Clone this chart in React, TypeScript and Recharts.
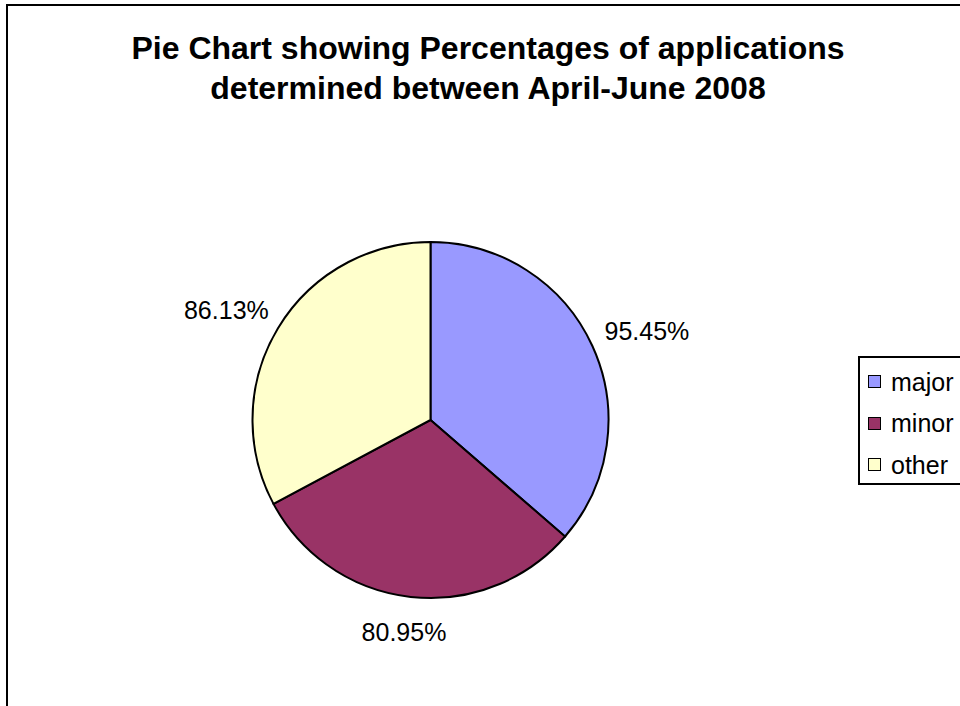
import React from 'react';
import { PieChart, Pie, Cell, Legend } from 'recharts';

const categories = ['major', 'minor', 'other'];
const percentages = [95.45, 80.95, 86.13];
const colours = ['#9999FF', '#993366', '#FFFFCC'];

const chartData = categories.map((name, i) => ({ name, value: percentages[i] }));

const FONT = '"Liberation Sans", Arial, sans-serif';
const RADIAN = Math.PI / 180;

// labels ride on an ellipse outside the rim: wider sideways because the text is wide
const renderLabel = (props: any) => {
  const { cx, cy, midAngle, outerRadius, value } = props;
  const cos = Math.cos(-midAngle * RADIAN);
  const sin = Math.sin(-midAngle * RADIAN);
  const x = cx + (outerRadius + 60) * cos;
  const y = cy + (outerRadius + 35) * sin;
  return (
    <text
      x={x}
      y={y}
      dy={9}
      textAnchor="middle"
      fill="#000"
      style={{ fontFamily: FONT, fontSize: 25 }}
    >
      {`${Number(value).toFixed(2)}%`}
    </text>
  );
};

const renderLegend = () => (
  <div
    style={{
      border: '2px solid #000',
      background: '#fff',
      width: 130,
      height: 122,
      boxSizing: 'content-box',
      fontFamily: FONT,
      fontSize: 25,
      color: '#000',
      paddingTop: 3,
    }}
  >
    {categories.map((name, i) => (
      <div key={name} style={{ display: 'flex', alignItems: 'center', height: 41.5 }}>
        <span
          style={{
            display: 'inline-block',
            width: 11,
            height: 11,
            marginLeft: 8,
            marginRight: 10,
            border: '1.5px solid #000',
            background: colours[i],
          }}
        />
        <span style={{ lineHeight: '28px' }}>{name}</span>
      </div>
    ))}
  </div>
);

export default function App() {
  return (
    <div style={{ position: 'fixed', left: 0, top: 0, width: 960, height: 706, overflow: 'hidden', background: '#fff' }}>
      <div
        style={{
          position: 'absolute',
          left: 6,
          top: 4,
          width: 1000,
          height: 800,
          border: '2px solid #000',
          boxSizing: 'border-box',
        }}
      />
      <div
        style={{
          position: 'absolute',
          left: 0,
          top: 28,
          width: 976,
          textAlign: 'center',
          fontFamily: FONT,
          fontWeight: 'bold',
          fontSize: 32,
          lineHeight: '40px',
          color: '#000',
        }}
      >
        Pie Chart showing Percentages of applications
        <br />
        determined between April-June 2008
      </div>
      <div style={{ position: 'absolute', left: 0, top: 0 }}>
        <PieChart width={960} height={706} margin={{ top: 0, right: 0, bottom: 0, left: 0 }}>
          <Pie
            data={chartData}
            dataKey="value"
            nameKey="name"
            cx={430.5}
            cy={420}
            outerRadius={178}
            startAngle={90}
            endAngle={-270}
            stroke="#000"
            strokeWidth={2}
            label={renderLabel}
            labelLine={false}
            isAnimationActive={false}
          >
            {chartData.map((d, i) => (
              <Cell key={d.name} fill={colours[i]} />
            ))}
          </Pie>
          <Legend
            layout="vertical"
            align="right"
            verticalAlign="middle"
            content={renderLegend}
            wrapperStyle={{ left: 858, top: 356, width: 134, right: 'auto', bottom: 'auto' }}
          />
        </PieChart>
      </div>
    </div>
  );
}
